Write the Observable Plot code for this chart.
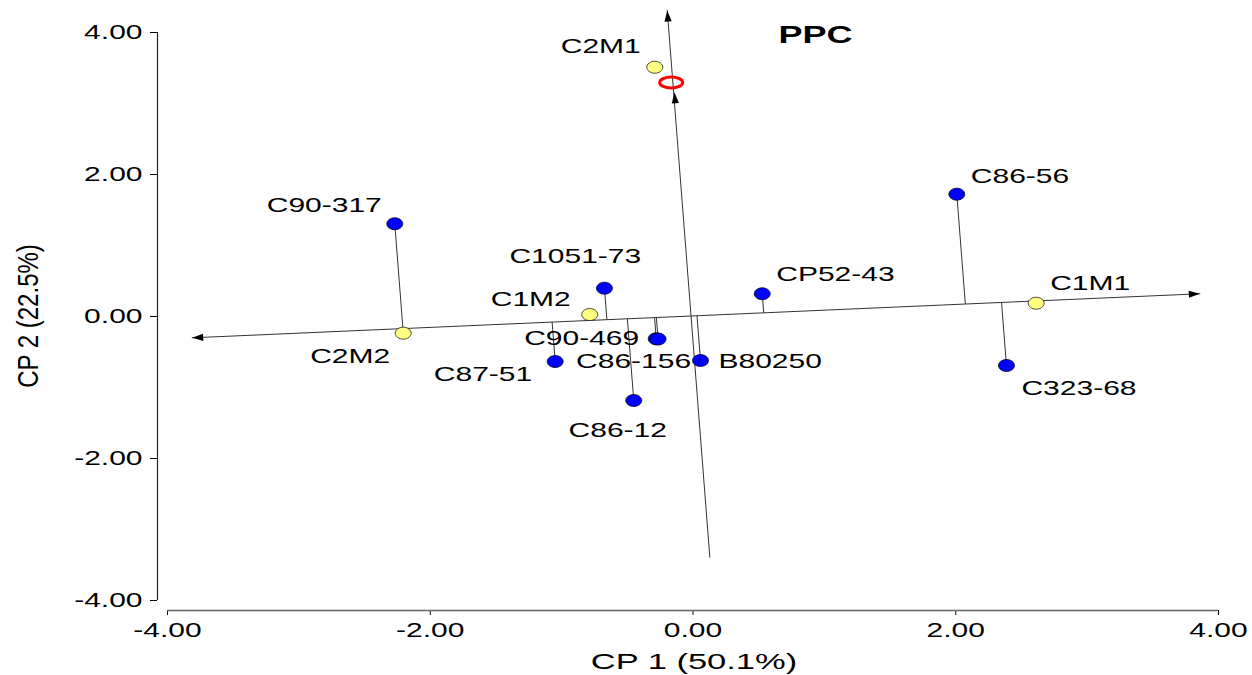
<!DOCTYPE html>
<html>
<head>
<meta charset="utf-8">
<script src="https://cdn.jsdelivr.net/npm/d3@7"></script>
<script src="https://cdn.jsdelivr.net/npm/@observablehq/plot@0.6"></script>
<style>
  html, body { margin: 0; padding: 0; background: #fff; }
  #chart svg { display: block; }
</style>
</head>
<body>
<div id="chart"></div>
<script>
// ---------- DATA ----------
// Genotypes (blue points)
const genotypeNames = ["C90-317", "C1051-73", "CP52-43", "C86-56", "C323-68", "C90-469", "C86-156", "C87-51", "B80250", "C86-12"];
const genotypeX = [-2.270, -0.674, 0.527, 2.008, 2.386, -0.280, -0.266, -1.049, 0.057, -0.451];
const genotypeY = [1.306, 0.399, 0.320, 1.723, -0.690, -0.314, -0.318, -0.634, -0.620, -1.183];

// Environments (yellow points)
const environmentNames = ["C2M1", "C2M2", "C1M2", "C1M1"];
const environmentX = [-0.291, -2.206, -0.786, 2.612];
const environmentY = [3.511, -0.235, 0.028, 0.187];

// Average environment (red circle)
const averageEnvX = [-0.166];
const averageEnvY = [3.296];

// Average-environment coordination axes (endpoints)
const atcAxisX = [-3.812, 3.858];   // abscissa: start, end
const atcAxisY = [-0.300, 0.320];
const aeaAxisX = [0.128, -0.196];   // ordinate: start (bottom), end (top)
const aeaAxisY = [-3.390, 4.310];
const aeaArrowX = [-0.141];          // inner arrow tip on the ordinate
const aeaArrowY = [3.159];

// Axes
const xDomain = [-4, 4];
const yDomain = [-4, 4];
const xTicks = [-4, -2, 0, 2, 4];
const yTicks = [-4, -2, 0, 2, 4];
const xLabel = "CP 1 (50.1%)";
const yLabel = "CP 2 (22.5%)";
const titleText = "PPC";

// ---------- LAYOUT (label placement, not data) ----------
const labelPlacement = {
  "C90-317":  {anchor: "end",    dx: -13, dy: -12},
  "C1051-73": {anchor: "start",  dx: -95, dy: -25},
  "CP52-43":  {anchor: "start",  dx: 14,  dy: -13},
  "C86-56":   {anchor: "start",  dx: 14,  dy: -11},
  "C323-68":  {anchor: "start",  dx: 15,  dy: 30},
  "C90-469":  {anchor: "end",    dx: -17, dy: 6},
  "C86-156":  {anchor: "start",  dx: -82, dy: 29},
  "C87-51":   {anchor: "end",    dx: -23, dy: 19},
  "B80250":   {anchor: "start",  dx: 18,  dy: 7},
  "C86-12":   {anchor: "middle", dx: -16, dy: 37},
  "C2M1":     {anchor: "end",    dx: -14, dy: -14},
  "C2M2":     {anchor: "end",    dx: -13, dy: 30},
  "C1M2":     {anchor: "end",    dx: -19, dy: -9},
  "C1M1":     {anchor: "start",  dx: 14,  dy: -13}
};

const W = 1252, H = 675;
const mL = 157, mR = 34, mT = 32, mB = 65, insL = 10, insB = 10;
const kx = (W - mL - insL - mR) / (xDomain[1] - xDomain[0]);
const ky = (H - mT - mB - insB) / (yDomain[1] - yDomain[0]);
const FONT = "'Liberation Sans', Arial, Helvetica, sans-serif";
const STRETCH = 1.5;

// ---------- derived tables ----------
const genotypes = genotypeNames.map((n, i) => ({name: n, x: genotypeX[i], y: genotypeY[i]}));
const environments = environmentNames.map((n, i) => ({name: n, x: environmentX[i], y: environmentY[i]}));
const avgEnv = averageEnvX.map((x, i) => ({x, y: averageEnvY[i]}));
const atcLine = atcAxisX.map((x, i) => ({x, y: atcAxisY[i]}));
const aeaLine = aeaAxisX.map((x, i) => ({x, y: aeaAxisY[i]}));

// projections of genotypes onto the abscissa, parallel to the ordinate
const a = {x: atcAxisX[1] - atcAxisX[0], y: atcAxisY[1] - atcAxisY[0]};
const b = {x: aeaAxisX[1] - aeaAxisX[0], y: aeaAxisY[1] - aeaAxisY[0]};
const det = a.x * b.y - a.y * b.x;
const projections = genotypes.map(g => {
  const px = g.x - atcAxisX[0], py = g.y - atcAxisY[0];
  const s = (px * b.y - py * b.x) / det;
  return {x1: g.x, y1: g.y, x2: atcAxisX[0] + s * a.x, y2: atcAxisY[0] + s * a.y};
});

// arrowheads
function screenAngle(from, to) {
  const dxp = (to.x - from.x) * kx, dyp = -(to.y - from.y) * ky;
  return Math.atan2(dxp, -dyp) * 180 / Math.PI;
}
const arrowHeads = [
  {x: atcLine[1].x, y: atcLine[1].y, angle: screenAngle(atcLine[0], atcLine[1])},
  {x: atcLine[0].x, y: atcLine[0].y, angle: screenAngle(atcLine[1], atcLine[0])},
  {x: aeaLine[1].x, y: aeaLine[1].y, angle: screenAngle(aeaLine[0], aeaLine[1])},
  {x: aeaArrowX[0], y: aeaArrowY[0], angle: screenAngle(aeaLine[0], aeaLine[1])}
];

// custom symbols
function ellipse(rx, ry) {
  const k = 0.5523;
  return {draw(c) {
    c.moveTo(rx, 0);
    c.bezierCurveTo(rx, k * ry, k * rx, ry, 0, ry);
    c.bezierCurveTo(-k * rx, ry, -rx, k * ry, -rx, 0);
    c.bezierCurveTo(-rx, -k * ry, -k * rx, -ry, 0, -ry);
    c.bezierCurveTo(k * rx, -ry, rx, -k * ry, rx, 0);
    c.closePath();
  }};
}
const triangleTip = {draw(c) {
  c.moveTo(0, 0); c.lineTo(-3.6, 11); c.lineTo(3.6, 11); c.closePath();
}};

const labelMarks = [...genotypes, ...environments].map(d => {
  const p = labelPlacement[d.name];
  return Plot.text([d], {x: "x", y: "y", text: "name", textAnchor: p.anchor, lineAnchor: "bottom",
    dx: p.dx, dy: p.dy, fontSize: 20, fill: "#000"});
});

const fmt = d => d.toFixed(2);

const plot = Plot.plot({
  width: W, height: H,
  marginLeft: mL, marginRight: mR, marginTop: mT, marginBottom: mB,
  insetLeft: insL, insetBottom: insB, insetTop: 0, insetRight: 0,
  style: {fontFamily: FONT, fontSize: "20px", color: "#000", background: "#fff"},
  x: {domain: xDomain, ticks: xTicks, tickFormat: fmt, tickSize: 5, tickPadding: 7, label: null},
  y: {domain: yDomain, ticks: yTicks, tickFormat: fmt, tickSize: 7, tickPadding: 8, label: null},
  marks: [
    // axis lines
    Plot.ruleY([yDomain[0]], {x1: xDomain[0], x2: xDomain[1], dy: insB, stroke: "#666", strokeWidth: 1.5}),
    Plot.ruleX([xDomain[0]], {y1: yDomain[0], y2: yDomain[1], dx: -insL, stroke: "#222", strokeWidth: 1.2}),
    // coordination axes
    Plot.line(atcLine, {x: "x", y: "y", stroke: "#333", strokeWidth: 1}),
    Plot.line(aeaLine, {x: "x", y: "y", stroke: "#333", strokeWidth: 1}),
    Plot.link(projections, {x1: "x1", y1: "y1", x2: "x2", y2: "y2", stroke: "#333", strokeWidth: 1}),
    Plot.dot(arrowHeads, {x: "x", y: "y", rotate: "angle", symbol: triangleTip, fill: "#000", stroke: "none"}),
    // average environment
    Plot.dot(avgEnv, {x: "x", y: "y", symbol: ellipse(11.5, 5.5), fill: "none", stroke: "#ff0000", strokeWidth: 3}),
    // points
    Plot.dot(environments, {x: "x", y: "y", symbol: ellipse(8, 6), fill: "#ffff80", stroke: "#000", strokeWidth: 0.7}),
    Plot.dot(genotypes, {x: "x", y: "y", symbol: ellipse(8, 6), fill: "#0000ff", stroke: "#000", strokeWidth: 0.7}),
    // labels
    ...labelMarks,
    // title and axis labels
    Plot.text([titleText], {frameAnchor: "top-left", textAnchor: "start", lineAnchor: "bottom",
      dx: 621, dy: 10.5, fontSize: 24, fontWeight: "bold", fill: "#000"}),
    Plot.text([xLabel], {frameAnchor: "bottom", textAnchor: "middle", lineAnchor: "bottom", dx: 6, dy: 58, fontSize: 23, fill: "#000"}),
    Plot.text([yLabel], {frameAnchor: "left", textAnchor: "middle", lineAnchor: "bottom", rotate: -90, dx: -120, dy: -5.5, fontSize: 24, fill: "#000"})
  ]
});

document.getElementById("chart").appendChild(plot);

// horizontal stretch of all text, as in the reference picture
plot.querySelectorAll("text").forEach(t => {
  const s = t.textContent === yLabel ? 1.25 : STRETCH;
  const tr = t.getAttribute("transform");
  if (tr && /^translate\(/.test(tr)) {
    t.setAttribute("transform", tr.replace(/^(translate\([^)]*\))/, `$1 scale(${s},1)`));
  } else {
    const x = parseFloat(t.getAttribute("x")) || 0, y = parseFloat(t.getAttribute("y")) || 0;
    t.setAttribute("transform", `translate(${x},${y}) scale(${s},1) translate(${-x},${-y})` + (tr ? " " + tr : ""));
  }
});
</script>
</body>
</html>
